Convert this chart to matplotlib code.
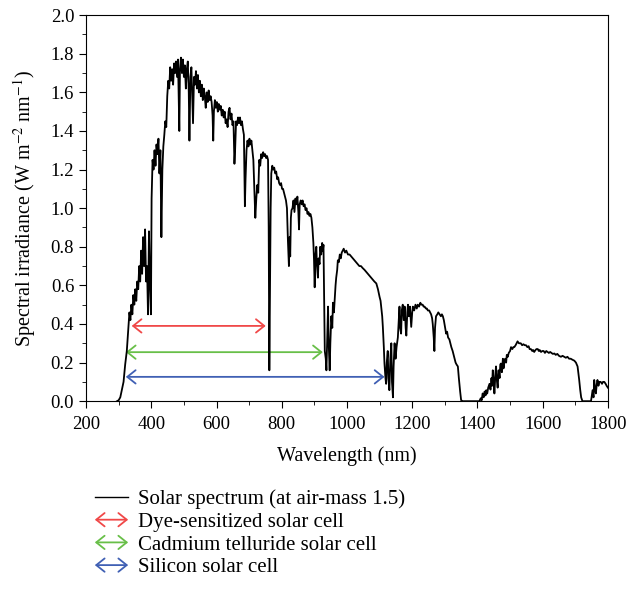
import matplotlib
matplotlib.use("Agg")
import matplotlib.pyplot as plt
from matplotlib.patches import FancyArrowPatch
from matplotlib.lines import Line2D
from matplotlib.legend_handler import HandlerBase
from matplotlib.ticker import MultipleLocator

plt.rcParams['font.family'] = ['Liberation Serif', 'DejaVu Serif']
plt.rcParams['mathtext.fontset'] = 'stix'

# AM1.5 spectrum, (wavelength nm, irradiance W m-2 nm-1)
uv_visible = [
    (295, 0.0), (300, 0.005), (305, 0.02), (310, 0.06), (315, 0.10), (320, 0.19),
    (325, 0.26), (330, 0.38), (333, 0.46), (336, 0.42), (339, 0.50), (342, 0.45),
    (345, 0.55), (348, 0.50), (351, 0.58), (354, 0.52), (357, 0.62), (360, 0.58),
    (363, 0.70), (366, 0.62), (369, 0.78), (372, 0.66), (375, 0.85), (378, 0.70),
    (381, 0.89), (384, 0.62), (387, 0.70), (390, 0.45), (393, 0.88), (396, 0.60),
    (399, 0.45), (401, 1.05), (404, 1.25), (407, 1.20), (410, 1.30), (413, 1.22),
    (416, 1.33), (419, 1.28), (422, 1.36), (425, 1.18), (428, 1.30), (431, 0.85),
    (434, 1.20), (437, 1.32), (440, 1.38), (443, 1.45), (446, 1.42), (449, 1.58),
    (452, 1.66), (455, 1.62), (458, 1.73), (461, 1.66), (464, 1.72), (467, 1.64),
    (470, 1.75), (473, 1.70), (476, 1.76), (479, 1.68), (482, 1.77), (485, 1.50),
    (486, 1.40), (488, 1.72), (491, 1.78), (494, 1.70), (497, 1.77), (500, 1.68),
    (503, 1.74), (506, 1.62), (509, 1.72), (512, 1.76), (515, 1.60), (517, 1.35),
    (520, 1.68), (523, 1.73), (526, 1.55), (528, 1.44), (531, 1.68), (534, 1.64),
    (537, 1.71), (540, 1.62), (543, 1.69), (546, 1.60), (549, 1.66), (552, 1.58),
    (555, 1.64), (558, 1.56), (561, 1.62), (564, 1.58), (567, 1.52), (570, 1.60),
    (573, 1.55), (576, 1.61), (579, 1.56), (582, 1.58), (585, 1.55), (588, 1.48),
    (590, 1.35), (592, 1.50), (595, 1.56), (598, 1.52), (601, 1.55), (604, 1.50),
    (607, 1.54), (610, 1.51), (613, 1.53), (616, 1.48), (619, 1.51), (622, 1.47),
    (625, 1.50), (628, 1.44), (631, 1.46), (634, 1.42), (637, 1.50), (640, 1.52),
    (643, 1.46), (646, 1.49), (649, 1.43), (652, 1.45), (655, 1.23), (657, 1.30),
    (660, 1.45), (663, 1.43), (666, 1.47), (669, 1.44), (672, 1.47), (675, 1.43),
    (678, 1.45), (681, 1.41), (684, 1.38), (687, 1.01), (689, 1.15), (692, 1.30),
    (695, 1.35), (698, 1.32), (701, 1.36), (704, 1.33), (707, 1.35), (710, 1.30),
    (713, 1.25), (716, 1.10), (719, 0.95), (722, 1.05), (725, 1.12), (728, 1.08),
    (731, 1.25), (734, 1.22), (737, 1.28), (740, 1.26), (743, 1.29), (746, 1.27),
    (749, 1.28), (752, 1.26), (755, 1.27), (758, 1.25), (760, 0.90), (762, 0.16),
    (764, 0.60), (766, 1.00), (768, 1.18), (771, 1.22), (774, 1.20), (777, 1.21),
    (780, 1.18), (783, 1.19), (786, 1.15), (789, 1.16), (792, 1.13), (795, 1.12),
    (798, 1.13),
]
near_ir = [
    (801, 1.10), (804, 1.10), (807, 1.08), (810, 1.06), (813, 1.04), (816, 1.00),
    (819, 0.83), (822, 0.70), (824, 0.85), (826, 0.75), (828, 0.95), (830, 0.99),
    (833, 1.00), (836, 1.04), (839, 0.98), (842, 1.05), (845, 1.02), (848, 1.06),
    (851, 0.98), (853, 0.89), (855, 1.02), (858, 1.04), (861, 1.02), (864, 1.04),
    (867, 1.01), (870, 1.02), (873, 0.99), (876, 1.00), (879, 0.97), (882, 0.98),
    (885, 0.96), (888, 0.97), (891, 0.95), (894, 0.90), (897, 0.82), (899, 0.73),
    (901, 0.59), (903, 0.75), (906, 0.80), (908, 0.70), (911, 0.64), (913, 0.74),
    (916, 0.71), (918, 0.80), (921, 0.76), (924, 0.82), (926, 0.78), (928, 0.81),
    (930, 0.55), (932, 0.26), (935, 0.22), (937, 0.16), (940, 0.35), (942, 0.49),
    (944, 0.30), (947, 0.16), (949, 0.30), (952, 0.44), (955, 0.38), (957, 0.51),
    (960, 0.46), (963, 0.55), (965, 0.60), (967, 0.64), (970, 0.68), (972, 0.73),
    (975, 0.72), (978, 0.76), (981, 0.74), (984, 0.77), (987, 0.78), (990, 0.79),
    (994, 0.77), (998, 0.78), (1003, 0.76), (1008, 0.76), (1013, 0.75), (1018, 0.74),
    (1023, 0.73), (1028, 0.72), (1033, 0.71), (1038, 0.70), (1043, 0.70), (1048, 0.69),
    (1054, 0.68), (1059, 0.67), (1064, 0.66), (1069, 0.65), (1074, 0.64), (1079, 0.63),
    (1084, 0.62), (1090, 0.61), (1095, 0.58), (1100, 0.54), (1103, 0.52), (1105, 0.49),
    (1108, 0.44), (1110, 0.385), (1113, 0.28), (1115, 0.195), (1118, 0.12), (1120, 0.09),
    (1122, 0.20), (1125, 0.26), (1127, 0.12), (1130, 0.057), (1133, 0.22), (1136, 0.30),
    (1138, 0.10), (1141, 0.02), (1143, 0.18), (1146, 0.30), (1149, 0.22), (1152, 0.28),
    (1156, 0.33), (1159, 0.42), (1161, 0.49), (1163, 0.38), (1166, 0.35), (1168, 0.47),
    (1171, 0.50), (1174, 0.42), (1177, 0.49), (1180, 0.38), (1182, 0.34), (1185, 0.46),
    (1187, 0.50), (1190, 0.44), (1193, 0.49), (1197, 0.385), (1200, 0.46), (1202, 0.49),
    (1206, 0.47), (1210, 0.50), (1214, 0.48), (1217, 0.50), (1221, 0.49), (1225, 0.51),
    (1228, 0.50), (1232, 0.50), (1235, 0.49), (1238, 0.49), (1242, 0.48), (1245, 0.48),
    (1248, 0.47), (1252, 0.47), (1255, 0.46), (1258, 0.45), (1261, 0.43), (1263, 0.40),
    (1266, 0.33), (1268, 0.26), (1270, 0.38), (1273, 0.44), (1277, 0.45), (1280, 0.46),
    (1284, 0.45), (1288, 0.44), (1291, 0.45), (1294, 0.44), (1297, 0.42), (1300, 0.39),
    (1304, 0.35), (1307, 0.36), (1310, 0.33), (1314, 0.32), (1317, 0.30), (1320, 0.28),
    (1324, 0.26), (1327, 0.24), (1330, 0.22), (1333, 0.20), (1336, 0.19), (1340, 0.18),
    (1343, 0.12), (1347, 0.05), (1350, 0.005), (1355, 0.0),
]
short_wave_ir = [
    (1400, 0.0), (1406, 0.0), (1410, 0.015), (1413, 0.005), (1416, 0.04), (1419, 0.02),
    (1422, 0.05), (1425, 0.03), (1427, 0.057), (1430, 0.04), (1433, 0.07), (1437, 0.09),
    (1440, 0.06), (1443, 0.12), (1445, 0.08), (1447, 0.16), (1450, 0.10), (1452, 0.04),
    (1455, 0.14), (1457, 0.18), (1460, 0.10), (1462, 0.07), (1465, 0.16), (1468, 0.12),
    (1470, 0.19), (1472, 0.195), (1475, 0.15), (1478, 0.22), (1480, 0.17), (1482, 0.195),
    (1485, 0.22), (1488, 0.20), (1490, 0.24), (1493, 0.23), (1496, 0.25), (1500, 0.26),
    (1503, 0.28), (1507, 0.27), (1510, 0.28), (1513, 0.28), (1517, 0.29), (1520, 0.30),
    (1523, 0.31), (1527, 0.30), (1530, 0.30), (1533, 0.30), (1537, 0.29), (1541, 0.295),
    (1545, 0.29), (1549, 0.29), (1553, 0.28), (1557, 0.285), (1560, 0.27), (1564, 0.27),
    (1568, 0.26), (1571, 0.265), (1574, 0.255), (1578, 0.265), (1581, 0.27), (1585, 0.27),
    (1588, 0.26), (1591, 0.265), (1595, 0.255), (1599, 0.26), (1603, 0.26), (1607, 0.25),
    (1611, 0.26), (1615, 0.255), (1619, 0.25), (1623, 0.255), (1627, 0.25), (1631, 0.245),
    (1636, 0.247), (1640, 0.24), (1645, 0.245), (1650, 0.235), (1656, 0.23), (1661, 0.235),
    (1666, 0.23), (1671, 0.225), (1676, 0.23), (1681, 0.22), (1686, 0.22), (1691, 0.215),
    (1697, 0.21), (1702, 0.20), (1707, 0.18), (1710, 0.14), (1712, 0.11), (1715, 0.06),
    (1718, 0.02), (1722, 0.0), (1748, 0.0), (1750, 0.02), (1753, 0.057), (1756, 0.02),
    (1758, 0.11), (1761, 0.06), (1763, 0.04), (1766, 0.09), (1768, 0.11), (1771, 0.08),
    (1774, 0.10), (1778, 0.10), (1782, 0.09), (1785, 0.10), (1789, 0.10), (1793, 0.09),
    (1796, 0.08), (1800, 0.07),
]

# absorption ranges of each cell type: (label, start nm, end nm, height, colour)
cells = [
    ("Dye-sensitized solar cell", 340, 751, 0.39, "#f04848"),
    ("Cadmium telluride solar cell", 322, 926, 0.254, "#68bf48"),
    ("Silicon solar cell", 322, 1115, 0.126, "#4060b4"),
]

spectrum = uv_visible + near_ir + short_wave_ir
wl = [p[0] for p in spectrum]
irr = [p[1] for p in spectrum]

ARROW = dict(arrowstyle="<->,head_length=0.4,head_width=0.32", mutation_scale=15,
             lw=1.3, shrinkA=0, shrinkB=0)


class ArrowHandler(HandlerBase):
    def create_artists(self, legend, orig_handle, xdescent, ydescent,
                       width, height, fontsize, trans):
        y = height / 2 - ydescent
        a = FancyArrowPatch((-xdescent, y), (width - xdescent, y),
                            color=orig_handle.get_color(), transform=trans, **ARROW)
        return [a]


fig = plt.figure(figsize=(6.28, 5.97), dpi=100)
ax = fig.add_axes([0.137, 0.328, 0.831, 0.6466])

ax.plot(wl, irr, color="black", lw=1.3)

handles = [Line2D([], [], color="black", lw=1.0)]
labels = ["Solar spectrum (at air-mass 1.5)"]
for name, x0, x1, h, c in cells:
    ax.add_patch(FancyArrowPatch((x0, h), (x1, h), color=c, **ARROW))
    handles.append(Line2D([], [], color=c))
    labels.append(name)

ax.set_xlim(200, 1800)
ax.set_ylim(0, 2.0)
ax.xaxis.set_major_locator(MultipleLocator(200))
ax.xaxis.set_minor_locator(MultipleLocator(100))
ax.yaxis.set_major_locator(MultipleLocator(0.2))
ax.yaxis.set_minor_locator(MultipleLocator(0.1))
ax.yaxis.set_major_formatter(plt.FormatStrFormatter("%.1f"))
ax.tick_params(which="both", direction="out", top=False, right=False, labelsize=13.5)
ax.tick_params(axis="x", pad=6)
ax.tick_params(which="major", length=5)
ax.tick_params(which="minor", length=3)

ax.set_xlabel("Wavelength (nm)", fontsize=14.5, labelpad=9)
ax.set_ylabel("Spectral irradiance (W m$^{-2}$ nm$^{-1}$)", fontsize=14.5, labelpad=9)

hm = {h: ArrowHandler() for h in handles[1:]}
fig.legend(handles, labels, handler_map=hm, loc="upper left",
           bbox_to_anchor=(0.151, 0.180), frameon=False, fontsize=15,
           handlelength=1.6, handletextpad=0.45, labelspacing=0.15,
           borderaxespad=0, borderpad=0)

fig.savefig("out.png", dpi=100)
